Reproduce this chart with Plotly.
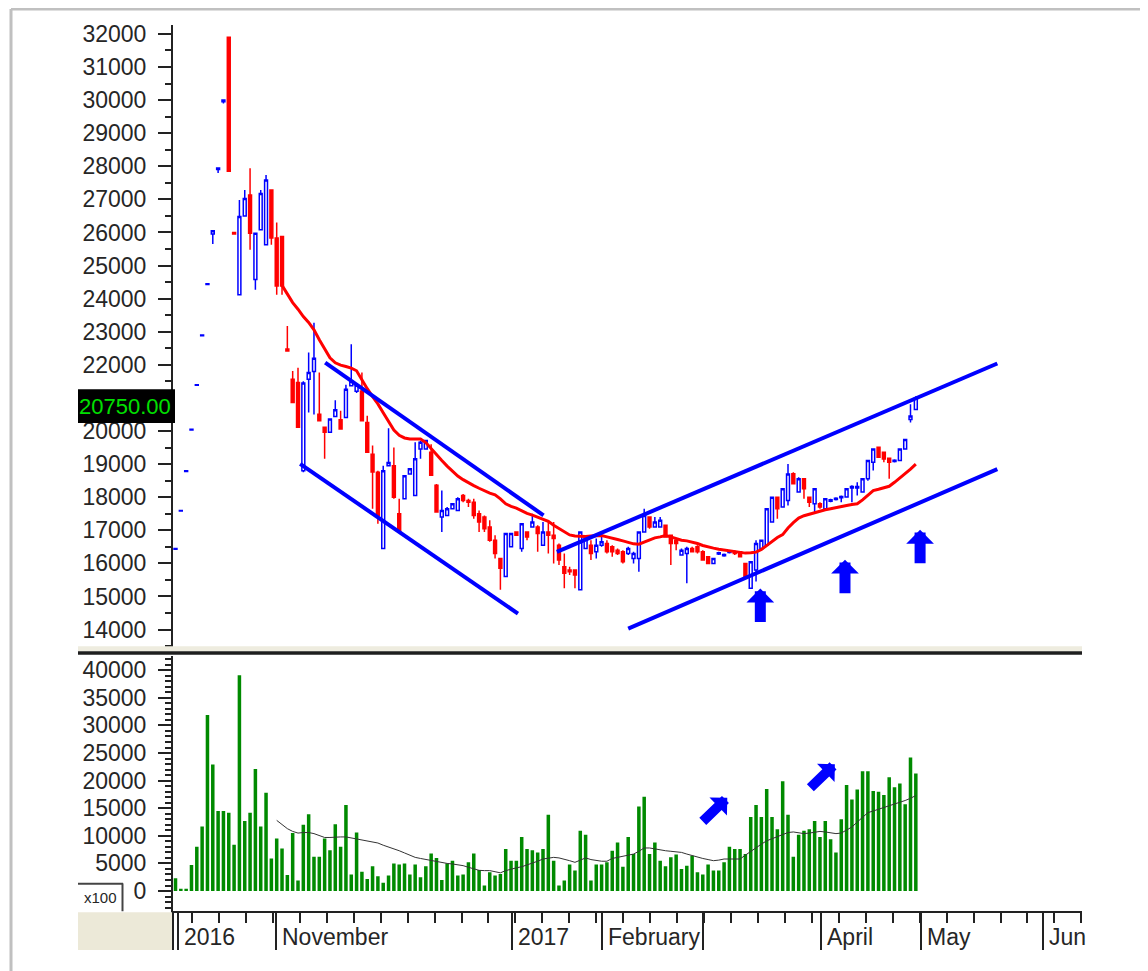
import plotly.graph_objects as go

W, H = 1148, 971          # reference picture size
OX, OY = 8, 8             # page body margin of the written html
FW, FH = W - OX, H - OY   # figure size so that figure + margin fills the window
FONT = "Liberation Sans, Arial, sans-serif"

# ---------------- data ----------------
OPEN = [16430, 17580, 18780, 20030, 21380, 22880, 24430, 25950, 27900, 29950,
        31900, 26000, 24120, 26500, 27130, 24580, 26080, 25630, 27280, 25830,
        25880, 22480, 21565, 21465, 18800, 21565, 21800, 20510, 20110, 19960,
        20440, 20340, 20410, 21370, 21200, 21210, 20260, 19300, 18756, 16450,
        18950, 18950, 17500, 17950, 18700, 18050, 19460, 19460, 19360, 18360,
        17400, 17450, 17650, 17600, 18050, 17900, 17850, 17500, 17400, 17100,
        16700, 16150, 15600, 16500, 16950, 16450, 16950, 17100, 17100, 16550,
        16950, 16850, 16550, 15900, 15800, 15800, 15200, 16450, 16550, 16350,
        16550, 16600, 16500, 16400, 16350, 16300, 16150, 16150, 16950, 17400,
        17100, 17100, 17150, 16850, 16700, 16250, 16300, 16450, 16500, 16350,
        16200, 16000, 16280, 16230, 16330, 16350, 16350, 16000, 15250, 15800,
        16450, 16550, 17250, 18000, 17700, 17900, 18705, 18154, 18555, 18000,
        17800, 17800, 17650, 17880, 17930, 17980, 18004, 18280, 18280, 18154,
        18555, 19056, 19508, 19357, 19176, 19080, 19106, 19458, 20350, 20650]
HIGH = [16450, 17600, 18800, 20050, 21400, 22900, 24450, 26050, 27950, 30000,
        31900, 26000, 26980, 27280, 27940, 25980, 27280, 27735, 27280, 26300,
        25900, 23170, 21815, 21915, 21500, 22370, 23270, 21766, 20110, 20360,
        20930, 20610, 21400, 22620, 21450, 21766, 20460, 19560, 18800, 18950,
        20080, 19500, 17950, 18650, 18860, 19660, 19700, 19710, 19600, 18400,
        18200, 17700, 17800, 18000, 18100, 17950, 17950, 17600, 17450, 17300,
        16850, 16150, 16900, 16900, 16950, 17200, 16950, 17500, 17150, 17250,
        17250, 17250, 16600, 16300, 15900, 15800, 16950, 16850, 16700, 16750,
        16800, 16700, 16550, 16450, 16400, 16500, 16350, 16950, 17650, 17400,
        17400, 17400, 17150, 16850, 16700, 16450, 16500, 16500, 16550, 16400,
        16200, 16150, 16350, 16300, 16400, 16400, 16350, 16000, 16050, 16700,
        16700, 17650, 18000, 18000, 18255, 19000, 18750, 18600, 18555, 18000,
        18255, 17850, 17950, 17950, 18000, 18050, 18255, 18360, 18450, 18555,
        19106, 19458, 19508, 19357, 19176, 19150, 19458, 19740, 20810, 21050]
LOW = [16430, 17580, 18780, 20030, 21380, 22880, 24430, 25650, 27800, 29900,
       27850, 25950, 24120, 26500, 25480, 24270, 26080, 25630, 25630, 24120,
       24120, 22420, 20865, 20110, 18750, 20560, 20500, 20310, 19160, 19960,
       20440, 20060, 20410, 21370, 21150, 20310, 19360, 17650, 17200, 16450,
       18950, 17950, 16950, 17950, 18700, 18050, 19160, 19460, 18660, 17550,
       16950, 17450, 17650, 17600, 17850, 17700, 17350, 16950, 16950, 16650,
       16150, 15200, 15600, 16500, 16850, 16350, 16700, 17100, 16350, 16550,
       16300, 16000, 15950, 15250, 15650, 15250, 15200, 16450, 16100, 16150,
       16500, 16300, 16200, 16250, 16000, 16250, 16000, 15750, 16950, 17050,
       17100, 17100, 16800, 15950, 16400, 16250, 15400, 16350, 16300, 16100,
       16000, 16000, 16250, 16200, 16300, 16250, 16200, 15550, 15250, 15450,
       16450, 16550, 17250, 17350, 17700, 17750, 18400, 18150, 17950, 17700,
       17500, 17650, 17650, 17850, 17900, 17850, 18000, 17850, 18050, 18150,
       18500, 18806, 19207, 19056, 18555, 19050, 19106, 19458, 20260, 20650]
CLOSE = [16450, 17600, 18800, 20050, 21400, 22900, 24450, 26050, 27950, 30000,
         27850, 25950, 26480, 27030, 25980, 25980, 27180, 27585, 25830, 24380,
         24380, 22420, 20865, 20110, 21450, 21766, 22200, 20310, 19960, 20360,
         20640, 20060, 21260, 21500, 21380, 20310, 19360, 18760, 17450, 18800,
         19050, 18000, 16950, 18650, 18860, 19160, 19660, 19710, 18660, 17550,
         17600, 17650, 17800, 17950, 17900, 17850, 17450, 17250, 17050, 16700,
         16300, 15850, 16900, 16900, 16850, 17200, 16800, 17250, 16900, 16950,
         16850, 16750, 16100, 15700, 15750, 15650, 16950, 16800, 16300, 16550,
         16650, 16350, 16350, 16300, 16050, 16450, 16300, 16950, 17450, 17100,
         17250, 17300, 16800, 16600, 16600, 16400, 16450, 16350, 16350, 16100,
         16000, 16150, 16320, 16270, 16370, 16300, 16200, 15600, 16050, 16600,
         16700, 17650, 18000, 17650, 18255, 18700, 18405, 18555, 18255, 17850,
         18255, 17700, 17950, 17920, 17970, 18020, 18255, 18320, 18320, 18555,
         19106, 19458, 19207, 19156, 19056, 19120, 19458, 19740, 20450, 21000]
VOLUME = [2300, 400, 400, 4700, 8000, 11700, 31900, 22900, 14500, 14500,
          14200, 8400, 39100, 12700, 14200, 22100, 11700, 17800, 5900, 9500,
          7700, 2900, 10500, 1900, 12000, 13900, 6200, 6200, 9500, 7400,
          12100, 8000, 15600, 3000, 10600, 3500, 2200, 4500, 2700, 1500,
          2800, 5000, 4800, 5000, 3000, 4800, 2500, 4500, 6800, 6000,
          2000, 5000, 5500, 2800, 3000, 5200, 6800, 3800, 1000, 3400,
          2800, 3100, 7600, 5500, 5500, 9800, 7600, 7400, 7000, 7600,
          13800, 5500, 1000, 1900, 4800, 3700, 10900, 10200, 1900, 4800,
          4800, 5200, 7300, 8800, 4400, 9800, 6700, 15300, 17100, 6700,
          8800, 5500, 4500, 6100, 6600, 4000, 4600, 6400, 3400, 3000,
          4800, 3700, 3700, 5200, 8000, 7600, 7600, 6700, 13400, 15600,
          13400, 18500, 13400, 11200, 19900, 13800, 6200, 10200, 10900, 11200,
          12700, 9800, 12700, 9400, 7000, 13000, 19200, 16600, 18400, 21700,
          21700, 18100, 18000, 17400, 20600, 18800, 19500, 15700, 24200, 21300]

PRICE_MA_START = 20
PRICE_MA = [24400, 24150, 23880, 23680, 23460, 23280, 23060, 22760, 22500, 22210,
            22060, 21990, 21950, 21900, 21820, 21530, 21280, 21040, 20820, 20550,
            20280, 20030, 19870, 19790, 19760, 19760, 19760, 19650, 19460, 19280,
            19110, 18940, 18790, 18640, 18530, 18430, 18350, 18270, 18190, 18120,
            18070, 17950, 17800, 17720, 17670, 17580, 17510, 17460, 17400, 17340,
            17270, 17150, 17050, 16950, 16860, 16830, 16810, 16810, 16830, 16840,
            16840, 16800, 16750, 16720, 16680, 16640, 16590, 16580, 16650, 16720,
            16770, 16800, 16840, 16800, 16740, 16700, 16680, 16650, 16600, 16540,
            16490, 16460, 16430, 16410, 16390, 16360, 16330, 16310, 16320, 16340,
            16420, 16540, 16650, 16780, 16870, 17070, 17230, 17370, 17440, 17490,
            17540, 17580, 17620, 17650, 17690, 17720, 17750, 17780, 17800, 17920,
            18070, 18200, 18240, 18280, 18330, 18450, 18580, 18700, 18850, 19000]

VOL_MA_START = 19
VOL_MA = [12800, 12000, 11300, 10800, 10500, 10600, 10600, 10400, 10000, 9700,
          9700, 9800, 9800, 9800, 9600, 9400, 9200, 9000, 8800, 8700,
          8300, 8000, 7600, 7300, 6900, 6500, 6100, 5900, 5700, 5500,
          5300, 5100, 5000, 4900, 4750, 4600, 4300, 4000, 3750, 3700,
          3700, 3500, 3300, 3700, 4000, 4200, 4400, 4700, 5000, 5400,
          5800, 6000, 6100, 6000, 5800, 5500, 5200, 5600, 6000, 5700,
          5500, 5400, 5400, 5900, 6100, 6300, 6500, 6700, 7200, 7800,
          7800, 7600, 7400, 7300, 7200, 7100, 7000, 6700, 6400, 6200,
          5900, 5700, 5500, 5600, 5800, 5800, 5800, 5800, 6500, 7200,
          7900, 8500, 9100, 9500, 9900, 10200, 10600, 10700, 10500, 10400,
          10500, 10700, 10800, 10700, 10600, 10400, 10500, 11000, 11600, 12500,
          13400, 14200, 14500, 14800, 15100, 15400, 15700, 16000, 16400, 16800,
          17300]

MONTH_POS = [0.47, 18.9, 63.2, 80.1, 99.1, 121.2, 140.0, 162.9]
MONTH_LABELS = ["2016", "November", "2017", "February", "", "April", "May", "Jun"]

TREND_LINES = [  # (x0, price0, x1, price1)
    (28.1, 22067, 69.1, 17452),
    (23.4, 19006, 64.3, 14482),
    (71.6, 16348, 154.3, 22040),
    (85.0, 14030, 154.3, 18846),
]
PRICE_ARROWS = [(109.8, 15238), (125.7, 16111), (139.8, 17014)]
VOLUME_ARROWS = [(103.6, 16900), (123.8, 22980)]
LAST_PRICE = 20750.00
PRICE_TICKS = list(range(14000, 32001, 1000))
PRICE_TICK_TEXT = ["" if v == 21000 else str(v) for v in PRICE_TICKS]  # hidden by price box
VOLUME_TICKS = list(range(0, 40001, 5000))

# ---------------- helpers (reference pixel -> paper fraction) ----------------
def fx(px):
    return (px - OX) / FW

def fy(py):
    return 1 - (py - OY) / FH

BLUE = "#0000FF"
RED = "#FF0000"
AXC = "#222222"
TXT = "#262626"

idx = list(range(len(CLOSE)))

fig = go.Figure()

fig.add_trace(go.Candlestick(
    x=idx, open=OPEN, high=HIGH, low=LOW, close=CLOSE,
    increasing=dict(line=dict(color=BLUE, width=1.5), fillcolor="white"),
    decreasing=dict(line=dict(color=RED, width=1.5), fillcolor=RED),
    whiskerwidth=0, xaxis="x", yaxis="y", showlegend=False, hoverinfo="skip"))

fig.add_trace(go.Scatter(
    x=list(range(PRICE_MA_START, PRICE_MA_START + len(PRICE_MA))), y=PRICE_MA,
    mode="lines", line=dict(color=RED, width=3), xaxis="x", yaxis="y",
    showlegend=False, hoverinfo="skip"))

for (x0, p0, x1, p1) in TREND_LINES:
    fig.add_trace(go.Scatter(x=[x0, x1], y=[p0, p1], mode="lines",
                             line=dict(color=BLUE, width=4), xaxis="x", yaxis="y",
                             showlegend=False, hoverinfo="skip", cliponaxis=False))

fig.add_trace(go.Bar(x=idx, y=VOLUME, marker=dict(color="#008A00", line=dict(width=0)),
                     xaxis="x", yaxis="y2", showlegend=False, hoverinfo="skip"))

fig.add_trace(go.Scatter(
    x=list(range(VOL_MA_START, VOL_MA_START + len(VOL_MA))), y=VOL_MA,
    mode="lines", line=dict(color="#333333", width=1), xaxis="x", yaxis="y2",
    showlegend=False, hoverinfo="skip"))

tickfont = dict(family=FONT, size=23, color=TXT)

fig.update_layout(
    width=FW, height=FH, margin=dict(l=0, r=0, t=0, b=0),
    paper_bgcolor="white", plot_bgcolor="white", showlegend=False,
    boxgap=0.22, bargap=0.34,
    font=dict(family=FONT, size=23, color=TXT),
    xaxis=dict(domain=[fx(173), fx(1082)], range=[-0.47, 170.2], anchor="y2",
               showline=True, linecolor=AXC, linewidth=2, ticks="outside",
               tickmode="array", tickvals=MONTH_POS, ticklen=37, tickwidth=2,
               tickcolor=AXC, showticklabels=False, showgrid=False, zeroline=False,
               rangeslider=dict(visible=False), fixedrange=True,
               minor=dict(ticks="outside", ticklen=10, tickwidth=2, tickcolor=AXC,
                          tick0=3.1, dtick=5.06, showgrid=False)),
    yaxis=dict(domain=[fy(648), fy(21)], range=[13402, 32271], anchor="x",
               showline=True, linecolor=AXC, linewidth=2, ticks="outside",
               tickmode="array", tickvals=PRICE_TICKS, ticktext=PRICE_TICK_TEXT,
               ticklen=13, tickwidth=2, tickcolor=AXC, tickfont=tickfont,
               ticklabelstandoff=7, showgrid=False, zeroline=False, fixedrange=True,
               minor=dict(ticks="outside", ticklen=6, tickwidth=2, tickcolor=AXC,
                          tick0=0, dtick=500, showgrid=False)),
    yaxis2=dict(domain=[fy(911), fy(655)], range=[-3662, 42520], anchor="x",
                showline=True, linecolor=AXC, linewidth=2, ticks="outside",
                tickmode="array", tickvals=VOLUME_TICKS, ticktext=[str(v) for v in VOLUME_TICKS],
                ticklen=13, tickwidth=2, tickcolor=AXC, tickfont=tickfont,
                ticklabelstandoff=7, showgrid=False, zeroline=False, fixedrange=True,
                minor=dict(ticks="outside", ticklen=6, tickwidth=2, tickcolor=AXC,
                           tick0=0, dtick=1000, showgrid=False)),
)

shapes = []
# outer light-grey frame
for (x0, y0, x1, y1) in [(11, 5, 11, 975), (11, 5, 1142, 5), (1142, 5, 1142, 975)]:
    shapes.append(dict(type="line", xref="paper", yref="paper", x0=fx(x0), y0=fy(y0),
                       x1=fx(x1), y1=fy(y1), line=dict(color="#C0C0C0", width=3)))
# panel separator
shapes.append(dict(type="rect", xref="paper", yref="paper", x0=fx(78), x1=fx(1082),
                   y0=fy(650), y1=fy(645), fillcolor="#EEECDF", line=dict(width=0), layer="above"))
shapes.append(dict(type="rect", xref="paper", yref="paper", x0=fx(78), x1=fx(1082),
                   y0=fy(653.5), y1=fy(650), fillcolor="#1E1E1E", line=dict(width=0), layer="above"))
# bottom-left beige box
shapes.append(dict(type="rect", xref="paper", yref="paper", x0=fx(78), x1=fx(172),
                   y0=fy(950), y1=fy(912), fillcolor="#ECE9D8", line=dict(width=0)))
shapes.append(dict(type="line", xref="paper", yref="paper", x0=fx(173), x1=fx(173),
                   y0=fy(950), y1=fy(911), line=dict(color=AXC, width=2)))
# x100 box
shapes.append(dict(type="line", xref="paper", yref="paper", x0=fx(78), x1=fx(123),
                   y0=fy(883.5), y1=fy(883.5), line=dict(color="#444444", width=2)))
shapes.append(dict(type="line", xref="paper", yref="paper", x0=fx(122.5), x1=fx(122.5),
                   y0=fy(911), y1=fy(883), line=dict(color="#444444", width=2)))
# last price box
half = 17 / 33.23 * 1000
shapes.append(dict(type="rect", xref="paper", yref="y", x0=fx(78), x1=fx(175),
                   y0=LAST_PRICE - half, y1=LAST_PRICE + half, fillcolor="black",
                   line=dict(width=0), layer="above"))

annotations = []
for pos, lab in zip(MONTH_POS, MONTH_LABELS):
    if lab:
        annotations.append(dict(x=pos, y=fy(937), xref="x", yref="paper", text=lab,
                                showarrow=False, xanchor="left", yanchor="middle", xshift=4,
                                font=dict(family=FONT, size=23, color=TXT)))
annotations.append(dict(x=fx(100), y=fy(897), xref="paper", yref="paper", text="x100",
                        showarrow=False, xanchor="center", yanchor="middle",
                        font=dict(family=FONT, size=15, color=TXT)))
annotations.append(dict(x=fx(125), y=LAST_PRICE, xref="paper", yref="y",
                        text=f"{LAST_PRICE:.2f}", showarrow=False, xanchor="center",
                        yanchor="middle", font=dict(family=FONT, size=22, color="#00E000")))
for (xa, pa) in PRICE_ARROWS:
    annotations.append(dict(x=xa, y=pa, xref="x", yref="y", text="", showarrow=True,
                            arrowhead=1, arrowsize=0.42, arrowwidth=11, arrowcolor=BLUE,
                            ax=0, ay=35, standoff=0))
for (xa, va) in VOLUME_ARROWS:
    annotations.append(dict(x=xa, y=va, xref="x", yref="y2", text="", showarrow=True,
                            arrowhead=1, arrowsize=0.42, arrowwidth=10, arrowcolor=BLUE,
                            ax=-26, ay=25, standoff=0))

fig.update_layout(shapes=shapes, annotations=annotations)

fig.write_html("out.html")
